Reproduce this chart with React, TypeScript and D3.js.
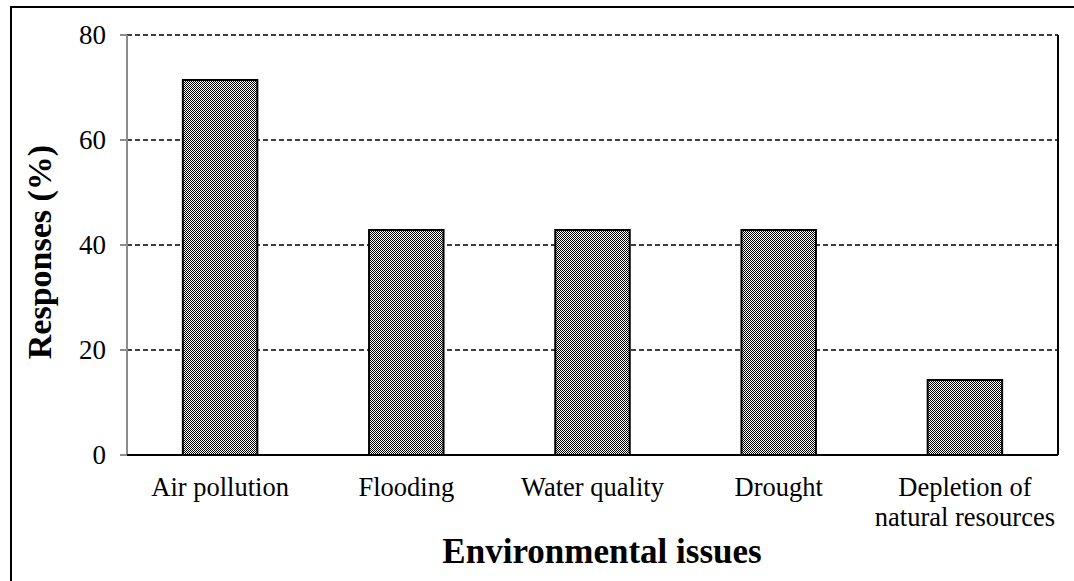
import React from "react";
import * as d3 from "d3";

const categories: string[][] = [
  ["Air pollution"],
  ["Flooding"],
  ["Water quality"],
  ["Drought"],
  ["Depletion of", "natural resources"],
];
const values: number[] = [71.43, 42.86, 42.86, 42.86, 14.29];
const yTicks: number[] = [0, 20, 40, 60, 80];

const W = 1074;
const H = 581;
const FONT = "'Liberation Serif', 'Times New Roman', serif";

export default function App() {
  const left = 127;
  const right = 1058;
  const top = 35;
  const bottom = 455;
  const y = d3.scaleLinear().domain([0, 80]).range([bottom, top]);
  const x = d3
    .scaleBand<number>()
    .domain(values.map((_, i) => i))
    .range([left, right])
    .paddingInner(0.6)
    .paddingOuter(0.3);

  return (
    <svg
      width={W}
      height={H}
      style={{ position: "absolute", left: 0, top: 0, background: "#fff" }}
      fontFamily={FONT}
    >
      <defs>
        <pattern id="checker" width={2} height={2} patternUnits="userSpaceOnUse">
          <rect width={2} height={2} fill="#fff" />
          <rect x={0} y={0} width={1} height={1} fill="#000" />
          <rect x={1} y={1} width={1} height={1} fill="#000" />
        </pattern>
      </defs>
      <rect x={11} y={7} width={1200} height={700} fill="none" stroke="#000" strokeWidth={2} />

      {/* gridlines */}
      {yTicks
        .filter((t) => t > 0)
        .map((t) => (
          <line
            key={t}
            x1={left}
            x2={right}
            y1={y(t)}
            y2={y(t)}
            stroke="#000"
            strokeWidth={1.5}
            strokeDasharray="5,3"
          />
        ))}
      {/* right border */}
      <line x1={right} x2={right} y1={top} y2={bottom} stroke="#000" strokeWidth={2} />

      {/* bars */}
      {values.map((v, i) => (
        <rect
          key={i}
          x={x(i)}
          y={y(v)}
          width={x.bandwidth()}
          height={y(0) - y(v)}
          fill="url(#checker)"
          stroke="#000"
          strokeWidth={2}
        />
      ))}

      {/* y axis */}
      <line x1={left} x2={left} y1={top} y2={bottom} stroke="#8c8c8c" strokeWidth={2} />
      {yTicks.map((t) => (
        <g key={t}>
          <line x1={left - 7} x2={left} y1={y(t)} y2={y(t)} stroke="#8c8c8c" strokeWidth={2} />
          <text
            x={106}
            y={y(t)}
            textAnchor="end"
            dominantBaseline="central"
            fontSize={27}
            fill="#000"
          >
            {t}
          </text>
        </g>
      ))}
      {/* x axis */}
      <line x1={left} x2={right} y1={bottom} y2={bottom} stroke="#000" strokeWidth={2} />

      {categories.map((lines, i) => (
        <text
          key={i}
          x={(x(i) as number) + x.bandwidth() / 2}
          y={496}
          textAnchor="middle"
          fontSize={26.5}
          fill="#000"
        >
          {lines.map((l, j) => (
            <tspan key={j} x={(x(i) as number) + x.bandwidth() / 2} dy={j === 0 ? 0 : 30}>
              {l}
            </tspan>
          ))}
        </text>
      ))}

      <text x={602} y={563} textAnchor="middle" fontSize={35} fontWeight="bold" fill="#000">
        Environmental issues
      </text>
      <text
        transform={`translate(51, 252) rotate(-90)`}
        textAnchor="middle"
        fontSize={34}
        fontWeight="bold"
        fill="#000"
      >
        Responses (%)
      </text>
    </svg>
  );
}
